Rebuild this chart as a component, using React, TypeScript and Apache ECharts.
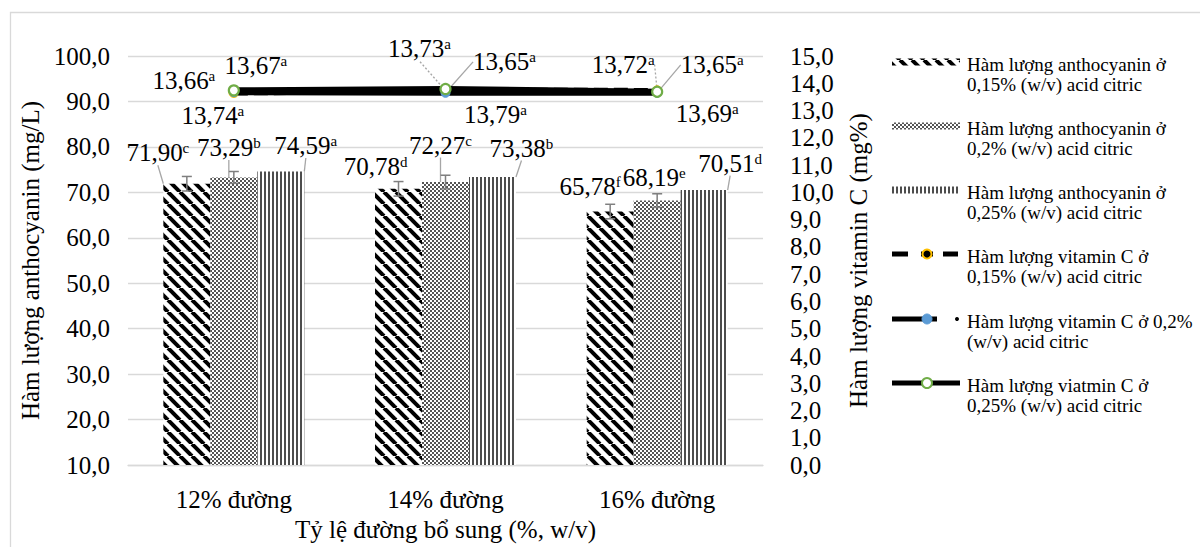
import React, { useEffect, useRef } from 'react';
import * as echarts from 'echarts';

const FONT = 'Liberation Serif, serif';

// ---------- data ----------
const categories = ['12% đường', '14% đường', '16% đường'];

const anthocyanin015 = [71.9, 70.78, 65.78];
const anthocyanin02 = [73.29, 72.27, 68.19];
const anthocyanin025 = [74.59, 73.38, 70.51];
const anthocyaninLetters015 = ['c', 'd', 'f'];
const anthocyaninLetters02 = ['b', 'c', 'e'];
const anthocyaninLetters025 = ['a', 'b', 'd'];
const anthocyaninSd015 = [1.6, 1.6, 1.6];
const anthocyaninSd02 = [1.3, 1.5, 1.5];

const vitaminC015 = [13.66, 13.73, 13.72];
const vitaminC02 = [13.67, 13.65, 13.65];
const vitaminC025 = [13.74, 13.79, 13.69];
const vitaminCLetters015 = ['a', 'a', 'a'];
const vitaminCLetters02 = ['a', 'a', 'a'];
const vitaminCLetters025 = ['a', 'a', 'a'];

const leftTickValues = [10, 20, 30, 40, 50, 60, 70, 80, 90, 100];
const rightTickValues = [0, 1, 2, 3, 4, 5, 6, 7, 8, 9, 10, 11, 12, 13, 14, 15];

const leftAxisTitle = 'Hàm lượng anthocyanin (mg/L)';
const rightAxisTitle = 'Hàm lượng vitamin C (mg%)';
const xAxisTitle = 'Tỷ lệ đường bổ sung (%, w/v)';

const legendLabels = [
  'Hàm lượng anthocyanin ở\n0,15% (w/v) acid citric',
  'Hàm lượng anthocyanin ở\n0,2% (w/v) acid citric',
  'Hàm lượng anthocyanin ở\n0,25% (w/v) acid citric',
  'Hàm lượng vitamin C ở\n0,15% (w/v) acid citric',
  'Hàm lượng vitamin C ở 0,2%\n(w/v) acid citric',
  'Hàm lượng viatmin C ở\n0,25% (w/v) acid citric',
];

// ---------- label layout (styling) ----------
const barLabelOffsets = [
  [[-29, -19], [-23, -10], [-20, -13]],
  [[-5, -18], [-5, -25], [-3, -11]],
  [[25, -14], [29, -17], [26, -15]],
];
const barLeaderShow = [
  [true, false, false],
  [true, true, false],
  [true, true, true],
];
const vitLabelOffsets = [
  [[-50, -12], [-26, -42], [-34, -26]],
  [[22, -27], [59, -31], [55, -28]],
  [[-21, 25], [50, 25], [50, 22]],
];
const vitLeaderShow = [
  [false, true, true],
  [false, true, true],
  [false, false, false],
];

const fmt = (v: number, d: number) => v.toFixed(d).replace('.', ',');

function makeCanvas(w: number, h: number, draw: (ctx: CanvasRenderingContext2D) => void) {
  const c = document.createElement('canvas');
  c.width = w;
  c.height = h;
  const ctx = c.getContext('2d') as CanvasRenderingContext2D;
  draw(ctx);
  return c;
}

export default function App() {
  const ref = useRef<HTMLDivElement>(null);

  useEffect(() => {
    if (!ref.current) return;
    const chart = echarts.init(ref.current, undefined, { renderer: 'svg' });

    const diag = makeCanvas(12, 12, (ctx) => {
      ctx.fillStyle = '#ffffff';
      ctx.fillRect(0, 0, 12, 12);
      ctx.strokeStyle = '#000000';
      ctx.lineWidth = 4;
      for (const k of [-12, 0, 12]) {
        ctx.beginPath();
        ctx.moveTo(k, 0);
        ctx.lineTo(k + 12, 12);
        ctx.stroke();
      }
    });
    const checker = makeCanvas(4, 4, (ctx) => {
      ctx.fillStyle = '#ffffff';
      ctx.fillRect(0, 0, 4, 4);
      ctx.fillStyle = '#555555';
      ctx.fillRect(0, 0, 2, 2);
      ctx.fillRect(2, 2, 2, 2);
    });
    const vlines = makeCanvas(4, 4, (ctx) => {
      ctx.fillStyle = '#ffffff';
      ctx.fillRect(0, 0, 4, 4);
      ctx.fillStyle = '#4d4d4d';
      ctx.fillRect(0, 0, 2, 4);
    });
    const patterns: any[] = [
      { image: diag, repeat: 'repeat' },
      { image: checker, repeat: 'repeat' },
      { image: vlines, repeat: 'repeat' },
    ];

    const richStyle = {
      v: { fontSize: 25, fontFamily: FONT, color: '#000', lineHeight: 24 },
      s: { fontSize: 15, fontFamily: FONT, color: '#000', verticalAlign: 'top', lineHeight: 15 },
    };

    const leaderStyle = (dotted: boolean) => ({
      color: '#a6a6a6',
      width: 1.3,
      type: dotted ? [2, 2] : 'solid',
    });

    const barValues = [anthocyanin015, anthocyanin02, anthocyanin025];
    const barLetters = [anthocyaninLetters015, anthocyaninLetters02, anthocyaninLetters025];
    const barSeries = barValues.map((vals, si) => ({
      type: 'bar',
      name: legendLabels[si],
      xAxisIndex: 0,
      yAxisIndex: 0,
      barGap: '0%',
      barCategoryGap: '33.4%',
      itemStyle: { color: patterns[si] },
      data: vals.map((v, di) => ({
        value: v,
        labelLine: { show: barLeaderShow[si][di], lineStyle: leaderStyle(false) },
      })),
      label: {
        show: true,
        position: 'top',
        distance: 0,
        formatter: (p: any) => `{v|${fmt(p.value, 2)}}{s|${barLetters[si][p.dataIndex]}}`,
        rich: richStyle,
      },
      labelLayout: (p: any) => {
        const o = barLabelOffsets[si][p.dataIndex];
        return { dx: o[0], dy: o[1] };
      },
      emphasis: { disabled: true },
      z: 2,
    }));

    const vitValues = [vitaminC015, vitaminC02, vitaminC025];
    const vitLetters = [vitaminCLetters015, vitaminCLetters02, vitaminCLetters025];
    const symbolStyles = [
      { size: 9, color: '#000000', border: '#FFC000', bw: 2 },
      { size: 9, color: '#5B9BD5', border: '#5B9BD5', bw: 1 },
      { size: 10, color: '#ffffff', border: '#70AD47', bw: 2.2 },
    ];
    const lineSeries = vitValues.map((vals, si) => ({
      type: 'line',
      name: legendLabels[3 + si],
      xAxisIndex: 0,
      yAxisIndex: 1,
      symbol: 'circle',
      symbolSize: symbolStyles[si].size,
      itemStyle: {
        color: symbolStyles[si].color,
        borderColor: symbolStyles[si].border,
        borderWidth: symbolStyles[si].bw,
      },
      lineStyle: { color: '#000000', width: 6, type: si === 0 ? [14, 6] : 'solid', cap: 'butt' },
      data: vals.map((v, di) => ({
        value: v,
        labelLine: { show: vitLeaderShow[si][di], lineStyle: leaderStyle(si === 0) },
      })),
      label: {
        show: true,
        position: 'inside',
        formatter: (p: any) => `{v|${fmt(p.value, 2)}}{s|${vitLetters[si][p.dataIndex]}}`,
        rich: richStyle,
      },
      labelLayout: (p: any) => {
        const o = vitLabelOffsets[si][p.dataIndex];
        return { dx: o[0], dy: o[1] };
      },
      emphasis: { disabled: true },
      z: 4 + si,
    }));

    const errData: number[][] = [];
    [anthocyaninSd015, anthocyaninSd02].forEach((sds, bi) => {
      sds.forEach((sd, ci) => {
        errData.push([ci, barValues[bi][ci], sd, bi]);
      });
    });

    const errorSeries = {
      type: 'custom',
      xAxisIndex: 0,
      yAxisIndex: 0,
      silent: true,
      z: 3,
      encode: { x: 0, y: 1 },
      data: errData,
      renderItem: (_params: any, api: any) => {
        const ci = api.value(0);
        const v = api.value(1);
        const sd = api.value(2);
        const bi = api.value(3);
        const c = api.coord([ci, v]);
        const catW = api.size([1, 0])[0];
        const barW = (catW * (1 - 0.334)) / 3;
        const x = c[0] + (bi - 1) * barW;
        const hi = api.coord([ci, v + sd])[1];
        const lo = api.coord([ci, v - sd])[1];
        const st = { stroke: '#7f7f7f', lineWidth: 1.5 };
        return {
          type: 'group',
          children: [
            { type: 'line', shape: { x1: x, y1: hi, x2: x, y2: lo }, style: st },
            { type: 'line', shape: { x1: x - 5, y1: hi, x2: x + 5, y2: hi }, style: st },
            { type: 'line', shape: { x1: x - 5, y1: lo, x2: x + 5, y2: lo }, style: st },
          ],
        };
      },
    };

    // ---------- legend drawn with graphic ----------
    const LX = 892;
    const LW = 68;
    const TX = 967;
    const itemY = [62, 126, 190, 254, 319, 383];
    const lg: any[] = [];
    for (let i = 0; i < 3; i++) {
      lg.push({
        type: 'rect',
        shape: { x: LX, y: itemY[i] - 3.5, width: LW, height: 7 },
        style: { fill: patterns[i] },
      });
    }
    const blk = { stroke: '#000', lineWidth: 5 };
    lg.push({ type: 'line', shape: { x1: LX, y1: itemY[3], x2: LX + 16, y2: itemY[3] }, style: blk });
    lg.push({ type: 'line', shape: { x1: LX + 29, y1: itemY[3], x2: LX + 41, y2: itemY[3] }, style: blk });
    lg.push({ type: 'line', shape: { x1: LX + 51, y1: itemY[3], x2: LX + 66, y2: itemY[3] }, style: blk });
    lg.push({ type: 'circle', shape: { cx: LX + 35, cy: itemY[3], r: 4.5 }, style: { fill: '#000', stroke: '#FFC000', lineWidth: 2 } });
    lg.push({ type: 'line', shape: { x1: LX, y1: itemY[4], x2: LX + 45, y2: itemY[4] }, style: blk });
    lg.push({ type: 'circle', shape: { cx: LX + 35, cy: itemY[4], r: 5 }, style: { fill: '#5B9BD5', stroke: '#5B9BD5', lineWidth: 1 } });
    lg.push({ type: 'circle', shape: { cx: LX + 65, cy: itemY[4], r: 2 }, style: { fill: '#000' } });
    lg.push({ type: 'line', shape: { x1: LX, y1: itemY[5], x2: LX + LW, y2: itemY[5] }, style: blk });
    lg.push({ type: 'circle', shape: { cx: LX + 35, cy: itemY[5], r: 5 }, style: { fill: '#fff', stroke: '#70AD47', lineWidth: 2 } });
    for (let i = 0; i < 6; i++) {
      lg.push({
        type: 'text',
        style: {
          text: legendLabels[i],
          x: TX,
          y: itemY[i] - 8,
          fontSize: 19,
          fontFamily: FONT,
          lineHeight: 20,
          fill: '#000',
          verticalAlign: 'top',
          align: 'left',
        },
      });
    }

    const option: any = {
      animation: false,
      textStyle: { fontFamily: FONT },
      grid: { left: 128, right: 437, top: 56, bottom: 79, containLabel: false },
      xAxis: [
        {
          type: 'category',
          data: categories,
          axisLine: { show: true, lineStyle: { color: '#d9d9d9', width: 1.3 } },
          axisTick: { show: false },
          axisLabel: { fontSize: 25, color: '#000', margin: 22, fontFamily: FONT },
          name: xAxisTitle,
          nameLocation: 'middle',
          nameGap: 50,
          nameTextStyle: { fontSize: 25, color: '#000', fontFamily: FONT },
        },
      ],
      yAxis: [
        {
          type: 'value',
          position: 'left',
          min: leftTickValues[0],
          max: leftTickValues[leftTickValues.length - 1],
          interval: leftTickValues[1] - leftTickValues[0],
          axisLine: { show: false },
          axisTick: { show: false },
          splitLine: { show: true, lineStyle: { color: '#d9d9d9', width: 1.3 } },
          axisLabel: { fontSize: 25, color: '#000', margin: 18, fontFamily: FONT, formatter: (v: number) => fmt(v, 1) },
          name: leftAxisTitle,
          nameLocation: 'middle',
          nameRotate: 90,
          nameGap: 83,
          nameTextStyle: { fontSize: 25, color: '#000', fontFamily: FONT },
        },
        {
          type: 'value',
          position: 'right',
          min: rightTickValues[0],
          max: rightTickValues[rightTickValues.length - 1],
          interval: rightTickValues[1] - rightTickValues[0],
          axisLine: { show: false },
          axisTick: { show: false },
          splitLine: { show: false },
          axisLabel: { fontSize: 25, color: '#000', margin: 27, fontFamily: FONT, formatter: (v: number) => fmt(v, 1) },
          name: rightAxisTitle,
          nameLocation: 'middle',
          nameRotate: 90,
          nameGap: 83,
          nameTextStyle: { fontSize: 25, color: '#000', fontFamily: FONT },
        },
      ],
      graphic: [
        {
          type: 'rect',
          silent: true,
          z: -10,
          shape: { x: 10.5, y: 12.5, width: 1400, height: 700 },
          style: { fill: 'none', stroke: '#d9d9d9', lineWidth: 1.3 },
        },
        { type: 'group', children: lg },
      ],
      series: [...barSeries, errorSeries, ...lineSeries],
    };

    chart.setOption(option);
    return () => chart.dispose();
  }, []);

  return (
    <div
      ref={ref}
      style={{ position: 'fixed', left: 0, top: 0, width: 1200, height: 547, background: '#fff' }}
    />
  );
}
